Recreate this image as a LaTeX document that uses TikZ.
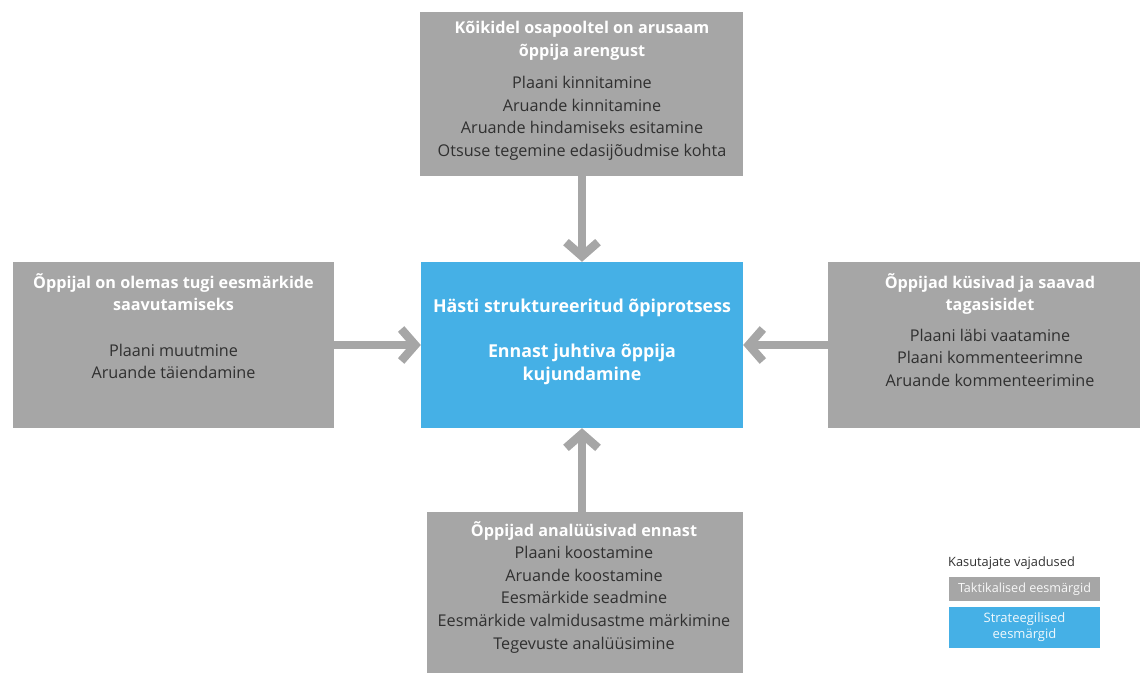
\documentclass[tikz,border=0pt]{standalone}
\usepackage{fontspec}
\setmainfont{Open Sans}
\usetikzlibrary{arrows.meta}
\definecolor{boxgray}{HTML}{A6A6A6}
\definecolor{boxblue}{HTML}{45B0E6}
\definecolor{bodytext}{HTML}{303030}
\begin{document}
\begin{tikzpicture}[x=1pt,y=-1pt,
  panel/.style={draw=none, fill=boxgray, inner sep=0pt, minimum width=#1},
  core/.style={draw=none, fill=boxblue, inner sep=0pt},
  label/.style={align=center, inner sep=0pt, anchor=north, font=\fontsize{16.2}{22.6}\selectfont, text=bodytext},
  flow/.style={draw=boxgray, line width=8.5pt, -{Straight Barb[length=14pt, width=32pt]}},
]
\useasboundingbox (0,0) rectangle (1140,672);

% boxes
\node[panel=323, minimum height=164] (top) at (581.5,94) {};
\node[core, minimum width=322, minimum height=166] (mid) at (582,345) {};
\node[panel=321, minimum height=166] (left) at (173.5,345) {};
\node[panel=321, minimum height=166] (right) at (988.5,345) {};
\node[panel=316, minimum height=170] (bottom) at (585,597) {};

% texts
\node[label] (toptxt) at (582,21) {{\bfseries\color{white}Kõikidel osapooltel on arusaam}\\
  {\bfseries\color{white}õppija arengust}\\[10pt]
  Plaani kinnitamine\\ Aruande kinnitamine\\ Aruande hindamiseks esitamine\\
  Otsuse tegemine edasijõudmise kohta};
\node[label] (lefttxt) at (173.5,273) {{\bfseries\color{white}Õppijal on olemas tugi eesmärkide}\\
  {\bfseries\color{white}saavutamiseks}\\[23pt]
  Plaani muutmine\\ Aruande täiendamine};
\node[label] (righttxt) at (990,273) {{\bfseries\color{white}Õppijad küsivad ja saavad}\\
  {\bfseries\color{white}tagasisidet}\\[8pt]
  Plaani läbi vaatamine\\ Plaani kommenteerimne\\ Aruande kommenteerimine};
\node[label] (bottomtxt) at (584,521) {{\bfseries\color{white}Õppijad analüüsivad ennast}\\
  Plaani koostamine\\ Aruande koostamine\\ Eesmärkide seadmine\\
  Eesmärkide valmidusastme märkimine\\ Tegevuste analüüsimine};
\node[label, text=white, font=\bfseries\fontsize{17.8}{23}\selectfont] (midtxt) at (582,299)
  {Hästi struktureeritud õpiprotsess\\[22pt] Ennast juhtiva õppija\\ kujundamine};

% connectors
\draw[flow] (top.south -| mid) -- (mid.north);
\draw[flow] (bottom.north -| mid) -- (mid.south);
\draw[flow] (left.east) -- (mid.west);
\draw[flow] (right.west) -- (mid.east);

% legend
\node[anchor=west, inner sep=0pt, font=\fontsize{12.8}{14}\selectfont, text=bodytext] (legtitle) at (948,563) {Kasutajate vajadused};
\node[core, fill=boxgray, minimum width=151, minimum height=24, font=\fontsize{12.6}{14}\selectfont, text=white!92!boxgray] (leggray) at (1024.5,589) {Taktikalised eesmärgid};
\node[core, minimum width=151, minimum height=41, align=center, font=\fontsize{13}{16}\selectfont, text=white!92!boxblue] (legblue) at (1024.5,627.5) {Strateegilised\\ eesmärgid};
\end{tikzpicture}
\end{document}
